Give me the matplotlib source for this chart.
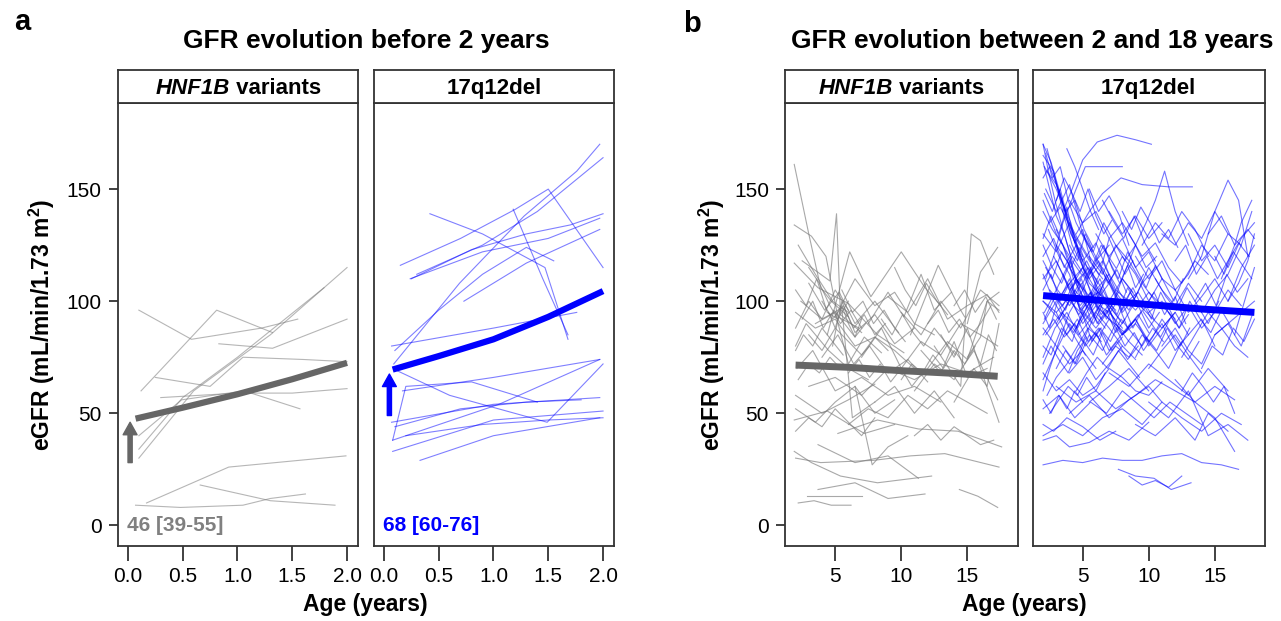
import matplotlib
matplotlib.use("Agg")
import matplotlib.pyplot as plt
from matplotlib.transforms import offset_copy

plt.rcParams['font.family'] = ['Liberation Sans', 'DejaVu Sans']
plt.rcParams['mathtext.default'] = 'regular'

# ---- data: individual trajectories (age in years, eGFR) ----
# a) before 2 years, HNF1B variants
hnf_early = [
    ([0.10, 0.58, 1.22, 1.55], [96, 83, 88, 92]),
    ([0.12, 0.81, 1.32], [60, 96, 86]),
    ([0.83, 1.32, 2.00], [81, 79, 92]),
    ([0.25, 0.75, 1.05, 1.60, 2.00], [66, 62, 75, 74, 73]),
    ([0.10, 0.50, 1.00, 1.79], [34, 57, 75, 106]),
    ([0.10, 0.60, 1.30, 2.00], [30, 60, 85, 115]),
    ([0.10, 0.49, 1.06, 1.57], [40, 56, 60, 52]),
    ([0.30, 1.00, 1.50, 2.00], [57, 59, 59, 61]),
    ([0.17, 0.92, 1.99], [10, 26, 31]),
    ([0.07, 0.48, 1.05, 1.30, 1.62], [9, 8, 9, 12, 14]),
    ([0.66, 1.30, 1.89], [18, 11, 9]),
]
# a) before 2 years, 17q12del
del_early = [
    ([0.09, 0.69, 1.28, 1.76, 1.97], [72, 108, 138, 158, 170]),
    ([0.30, 0.90, 1.40, 2.00], [112, 125, 140, 164]),
    ([0.15, 0.70, 1.20, 1.50, 2.00], [116, 128, 141, 150, 115]),
    ([0.25, 0.80, 1.30, 1.70, 2.00], [110, 123, 130, 134, 139]),
    ([0.42, 0.90, 1.47, 1.68], [139, 130, 115, 83]),
    ([1.18, 1.45, 1.68], [141, 110, 85]),
    ([0.73, 1.30, 1.97], [100, 117, 132]),
    ([0.24, 0.90, 1.50, 1.97], [110, 122, 128, 137]),
    ([0.07, 1.00, 1.76], [80, 88, 95]),
    ([0.10, 0.50, 0.90, 1.30, 1.55], [78, 96, 112, 124, 118]),
    ([0.17, 1.00, 1.97], [60, 66, 74]),
    ([0.12, 0.60, 1.49, 2.00], [69, 58, 46, 72]),
    ([0.07, 1.00, 1.97], [46, 54, 57]),
    ([0.08, 1.05, 1.97], [38, 54, 74]),
    ([0.08, 1.00, 2.00], [33, 47, 51]),
    ([0.33, 1.00, 1.97], [29, 40, 48]),
    ([0.10, 0.70, 1.30, 1.80], [44, 52, 55, 56]),
    ([0.20, 0.90, 1.50, 2.00], [40, 45, 47, 48]),
    ([0.08, 0.20, 0.80, 1.40], [38, 62, 64, 55]),
]
# b) 2-18 years, HNF1B variants
hnf_late = [
    ([1.9, 3.0, 3.9, 4.7, 6.0], [161, 130, 106, 100, 93]),
    ([1.9, 3.2, 4.3, 5.2, 6.8], [134, 129, 120, 93, 88]),
    ([2.5, 4.6, 5.1, 5.4, 7.0], [118, 109, 139, 94, 86]),
    ([1.9, 3.7, 6.0, 8.2, 10.2], [117, 106, 99, 85, 77]),
    ([4.4, 6.1, 7.7, 10.0, 11.8, 13.0], [85, 122, 102, 122, 106, 98]),
    ([10.7, 12.8, 14.4, 14.8], [85, 116, 97, 93]),
    ([12.5, 14.5, 15.3, 16.0, 17.0], [80, 62, 130, 127, 112]),
    ([15.0, 16.0, 17.3], [90, 113, 124]),
    ([2.0, 3.9, 7.9, 10.7, 13.3, 17.4], [30, 28, 29, 31, 32, 26]),
    ([2.2, 3.4, 4.7, 6.2], [10, 11, 9, 9]),
    ([2.9, 4.2, 7.0], [13, 13, 13]),
    ([14.4, 15.8, 17.3], [16, 13, 8]),
    ([3.7, 6.5, 9.0, 11.8], [16, 19, 12, 14]),
    ([1.9, 3.2, 5.4, 8.2, 12.3], [33, 28, 22, 19, 22]),
    ([3.7, 6.5, 9.0, 11.3], [36, 28, 31, 21]),
    ([5.2, 8.2, 11.3, 14.3, 17.6], [41, 47, 43, 42, 35]),
    ([1.9, 4.4, 7.2, 9.5], [47, 51, 41, 45]),
    ([6.5, 7.8, 9.0, 10.5], [62, 27, 35, 40]),
    ([2.0, 3.5, 5.0, 6.5, 8.0, 9.5, 11.0], [95, 88, 92, 80, 84, 78, 70]),
    ([2.0, 2.8, 4.5, 6.0, 7.5], [80, 90, 78, 70, 65]),
    ([2.1, 3.3, 5.0, 7.0, 9.0, 11.0, 13.0], [70, 78, 60, 66, 58, 62, 55]),
    ([2.4, 4.0, 5.5, 6.3, 8.0], [100, 92, 97, 48, 55]),
    ([3.0, 5.0, 7.0, 9.0, 11.0, 13.0, 15.0, 17.0], [62, 66, 58, 70, 65, 72, 68, 75]),
    ([2.0, 4.0, 6.0, 8.0], [58, 50, 56, 63]),
    ([5.0, 6.5, 8.0, 9.5, 11.0, 12.5], [93, 110, 98, 104, 90, 85]),
    ([7.0, 8.5, 10.0, 11.5, 13.0, 14.5, 16.0, 17.3], [75, 88, 70, 82, 76, 90, 85, 80]),
    ([9.0, 10.5, 12.0, 13.5, 15.0, 16.5, 17.4], [102, 95, 110, 92, 98, 103, 95]),
    ([11.0, 12.5, 14.0, 15.5, 17.3], [60, 72, 65, 78, 56]),
    ([13.0, 14.0, 15.0, 16.0, 17.4], [85, 75, 88, 70, 46]),
    ([8.0, 9.5, 11.0, 12.5, 14.0], [55, 62, 50, 60, 48]),
    ([3.0, 4.2, 5.3, 6.5, 8.0, 9.8], [108, 96, 104, 90, 100, 86]),
    ([2.2, 3.5, 4.8, 6.0], [125, 112, 100, 95]),
    ([2.0, 3.0, 4.0, 5.0, 6.0], [88, 100, 92, 105, 96]),
    ([4.0, 5.2, 6.4, 7.6, 9.0, 10.5, 12.0], [75, 85, 72, 80, 68, 74, 64]),
    ([10.0, 11.5, 13.0, 14.5, 16.0, 17.4], [95, 85, 100, 88, 105, 98]),
    ([12.0, 13.5, 15.0, 16.5, 17.4], [70, 82, 74, 100, 104]),
    ([14.0, 15.5, 16.5, 17.4], [55, 70, 62, 90]),
    ([6.0, 7.5, 9.0, 10.5, 12.0, 13.5, 15.0, 16.5], [45, 52, 48, 58, 52, 60, 55, 50]),
    ([2.0, 3.5, 5.0, 6.5, 8.0, 9.5], [52, 46, 55, 62, 50, 56]),
    ([3.5, 5.0, 6.0, 7.2, 8.5], [90, 95, 72, 84, 77]),
    ([7.5, 9.0, 10.2, 11.5, 12.5, 13.8], [90, 104, 93, 112, 96, 104]),
    ([15.0, 16.0, 16.5, 17.4], [75, 84, 100, 96]),
    ([4.8, 5.5, 6.5, 8.0, 9.5, 11.0], [80, 100, 86, 94, 81, 88]),
    ([11.5, 13.0, 14.0, 15.0, 16.5], [78, 68, 82, 66, 70]),
    ([2.0, 2.8, 3.6, 4.4, 5.2, 6.0], [105, 98, 110, 95, 92, 100]),
    ([2.5, 3.3, 4.1, 4.9, 5.7, 6.5, 7.3], [92, 100, 88, 96, 90, 84, 90]),
    ([3.0, 3.8, 4.6, 5.4, 6.2, 7.0], [115, 108, 98, 90, 96, 88]),
    ([4.0, 4.8, 5.6, 6.4, 7.2, 8.0, 8.8], [100, 92, 98, 88, 94, 85, 90]),
    ([2.0, 2.6, 3.3, 4.0, 4.8, 5.6], [78, 85, 80, 88, 82, 76]),
    ([5.5, 6.3, 7.1, 7.9, 8.7, 9.5, 10.3], [105, 95, 100, 90, 96, 88, 82]),
    ([8.5, 9.3, 10.1, 10.9, 11.7, 12.5, 13.3, 14.1], [92, 85, 94, 86, 80, 88, 82, 76]),
    ([10.0, 10.8, 11.6, 12.4, 13.2, 14.0, 14.8, 15.6], [65, 72, 68, 76, 70, 78, 72, 80]),
    ([12.0, 12.8, 13.6, 14.4, 15.2, 16.0, 16.8], [90, 96, 86, 92, 84, 90, 98]),
    ([2.2, 3.0, 3.8, 4.6, 5.4], [65, 72, 68, 75, 70]),
    ([6.0, 6.8, 7.6, 8.4, 9.2, 10.0, 10.8, 11.6], [68, 74, 66, 72, 64, 70, 62, 68]),
    ([3.0, 4.0, 5.0, 6.0, 7.0, 8.0, 9.0], [85, 78, 88, 82, 76, 84, 78]),
    ([9.5, 10.3, 11.1, 11.9, 12.7, 13.5], [115, 105, 98, 108, 100, 94]),
    ([14.0, 14.8, 15.6, 16.4, 17.2], [98, 105, 95, 102, 92]),
    ([2.0, 3.0, 4.0, 5.0, 6.0, 7.0, 8.0], [42, 48, 44, 52, 46, 40, 48]),
    ([11.0, 12.0, 13.0, 14.0, 15.0, 16.0, 17.0], [40, 45, 38, 44, 40, 36, 38]),
    ([4.5, 5.0, 5.5, 6.0, 6.5, 7.0], [95, 88, 98, 90, 84, 92]),
    ([16.0, 16.6, 17.2], [72, 85, 78]),
]
# b) 2-18 years, 17q12del
del_late = [
    ([2.0, 2.6, 3.2, 4.0, 5.0, 6.0], [170, 162, 150, 132, 118, 110]),
    ([2.0, 2.8, 3.5, 4.2, 5.3], [165, 158, 140, 125, 112]),
    ([2.1, 3.0, 3.8, 4.6, 5.5, 6.5, 7.5], [160, 150, 138, 122, 108, 102, 96]),
    ([2.0, 2.5, 3.3, 4.1, 5.0], [155, 160, 148, 130, 120]),
    ([2.2, 3.0, 4.0, 5.0, 6.0, 7.0], [150, 140, 152, 130, 118, 125]),
    ([2.0, 3.0, 4.0, 4.8, 5.6], [145, 130, 120, 105, 92]),
    ([2.3, 3.2, 4.1, 5.0, 5.8, 7.0, 8.0], [168, 148, 135, 115, 100, 95, 88]),
    ([2.0, 2.7, 3.5, 4.3, 5.2, 6.2], [140, 132, 125, 110, 100, 104]),
    ([2.5, 3.3, 4.5, 5.5, 6.5], [135, 142, 128, 118, 110]),
    ([3.5, 4.2, 5.0, 6.1, 7.6, 9.0, 10.2], [140, 150, 163, 171, 174, 172, 170]),
    ([2.8, 3.5, 4.5, 5.2, 6.6, 8.0], [120, 135, 150, 160, 160, 160]),
    ([4.5, 5.5, 6.5, 7.9, 9.5, 11.5, 13.3], [130, 140, 148, 155, 152, 151, 151]),
    ([8.0, 9.0, 9.8, 10.5, 11.2, 12.0, 13.0], [110, 125, 135, 145, 158, 140, 125]),
    ([13.0, 14.0, 15.0, 16.0, 16.8, 17.5], [110, 120, 140, 154, 145, 120]),
    ([15.5, 16.5, 17.0, 17.8], [110, 125, 135, 145]),
    ([5.5, 6.2, 7.0, 7.8, 8.5], [150, 140, 147, 138, 125]),
    ([2.0, 3.0, 4.0, 5.0, 6.0, 7.0, 8.0, 9.0], [110, 118, 105, 112, 100, 108, 95, 102]),
    ([2.0, 3.2, 4.4, 5.6, 6.8, 8.0, 9.2, 10.4], [100, 92, 105, 96, 110, 98, 104, 92]),
    ([2.1, 3.0, 4.2, 5.3, 6.4, 7.5], [95, 105, 120, 110, 125, 115]),
    ([2.0, 2.8, 3.6, 4.5, 5.5, 6.5, 7.5, 8.5], [120, 128, 115, 125, 110, 118, 105, 100]),
    ([2.2, 3.4, 4.6, 5.8, 7.0, 8.2, 9.4], [85, 95, 88, 100, 92, 86, 95]),
    ([2.0, 3.0, 4.0, 5.0, 6.0, 7.0], [130, 122, 135, 118, 126, 112]),
    ([2.5, 3.5, 4.5, 5.5, 6.5, 7.5, 8.5, 9.5, 10.5], [105, 98, 110, 102, 115, 104, 96, 108, 100]),
    ([3.0, 4.0, 5.0, 6.0, 7.0, 8.0, 9.0, 10.0, 11.0, 12.0], [90, 100, 94, 105, 98, 90, 100, 94, 88, 95]),
    ([2.0, 2.9, 3.8, 4.7, 5.6, 6.5], [75, 88, 95, 85, 92, 100]),
    ([2.0, 3.0, 4.0, 5.0, 6.0, 7.0, 8.0], [65, 78, 90, 82, 95, 88, 80]),
    ([2.0, 2.5, 3.2, 4.0, 5.0], [60, 70, 82, 95, 105]),
    ([2.3, 3.0, 3.8, 4.6, 5.4, 6.2, 7.0], [58, 66, 72, 80, 88, 84, 92]),
    ([4.0, 5.0, 6.0, 7.0, 8.0, 9.0, 10.0, 11.0], [115, 105, 118, 108, 120, 112, 100, 110]),
    ([5.0, 6.0, 7.0, 8.0, 9.0, 10.0, 11.0, 12.0, 13.0], [95, 88, 96, 85, 92, 80, 88, 95, 85]),
    ([6.0, 7.0, 8.0, 9.0, 10.0, 11.0, 12.0], [130, 120, 128, 115, 122, 110, 105]),
    ([3.5, 4.5, 5.5, 6.5, 7.5, 8.5, 9.5], [80, 72, 85, 78, 90, 82, 76]),
    ([2.0, 3.0, 4.0, 5.0, 6.0], [88, 80, 72, 78, 70]),
    ([7.0, 8.0, 9.0, 10.0, 11.0, 12.0, 13.0, 14.0], [100, 110, 102, 115, 105, 98, 108, 100]),
    ([8.0, 9.0, 10.0, 11.0, 12.0, 13.0, 14.0, 15.0], [85, 92, 82, 90, 78, 85, 92, 80]),
    ([9.0, 10.0, 11.0, 12.0, 13.0, 14.0, 15.0, 16.0], [120, 110, 118, 105, 112, 125, 118, 130]),
    ([10.0, 11.0, 12.0, 13.0, 14.0, 15.0, 16.0, 17.0], [95, 100, 90, 98, 88, 95, 105, 98]),
    ([11.0, 12.0, 13.0, 14.0, 15.0, 16.0, 17.0, 18.0], [80, 88, 78, 72, 85, 90, 95, 100]),
    ([12.0, 13.0, 14.0, 15.0, 16.0, 17.0, 18.0], [105, 95, 102, 110, 100, 115, 125]),
    ([13.0, 14.0, 15.0, 16.0, 17.0, 18.0], [130, 118, 125, 115, 128, 135]),
    ([14.0, 15.0, 16.0, 17.0, 17.8], [95, 105, 112, 125, 140]),
    ([6.5, 7.5, 8.5, 9.5, 10.5, 11.5, 12.5], [72, 80, 75, 85, 78, 70, 82]),
    ([4.0, 5.0, 6.0, 7.0, 8.0, 9.0], [68, 75, 65, 72, 80, 74]),
    ([2.0, 2.6, 3.3, 4.0, 4.8, 5.6, 6.4, 7.2], [105, 112, 100, 108, 98, 104, 94, 100]),
    ([2.2, 3.1, 4.0, 4.9, 5.8, 6.7], [115, 105, 98, 108, 95, 88]),
    ([3.0, 3.8, 4.6, 5.4, 6.2, 7.0, 7.8], [125, 118, 108, 115, 105, 98, 92]),
    ([5.5, 6.5, 7.5, 8.5, 9.5, 10.5], [120, 112, 125, 118, 108, 115]),
    ([2.0, 3.0, 4.0, 5.0, 6.0, 7.0, 8.0, 9.0, 10.0], [100, 95, 102, 90, 98, 92, 85, 90, 82]),
    ([8.5, 9.5, 10.5, 11.5, 12.5, 13.5, 14.5], [130, 120, 126, 115, 108, 118, 112]),
    ([10.0, 11.0, 12.0, 13.0, 14.0], [70, 78, 85, 76, 68]),
    ([12.5, 13.5, 14.5, 15.5, 16.5, 17.5], [75, 85, 95, 88, 80, 75]),
    ([15.0, 16.0, 17.0, 17.9], [85, 90, 80, 95]),
    ([16.0, 16.8, 17.5, 18.0], [100, 108, 118, 130]),
    ([9.5, 10.5, 11.5, 12.5, 13.5, 14.5], [125, 135, 128, 140, 132, 120]),
    ([11.0, 12.0, 13.0, 14.0, 15.0, 16.0, 17.0], [130, 125, 135, 128, 140, 130, 125]),
    ([7.0, 8.0, 9.0, 10.0, 11.0], [140, 130, 138, 128, 135]),
    ([14.5, 15.5, 16.5, 17.5, 18.0], [130, 138, 125, 132, 128]),
    ([4.0, 5.0, 6.0, 7.0, 8.0, 9.0], [145, 135, 140, 128, 135, 125]),
    ([2.0, 3.0, 4.0, 5.0, 6.0, 7.0, 8.0, 9.0, 10.0, 11.0], [68, 60, 65, 58, 62, 70, 66, 60, 58, 64]),
    ([2.0, 3.2, 4.4, 5.6, 6.8, 8.0, 9.2, 10.4, 11.6, 12.8, 14.0], [52, 58, 48, 55, 50, 60, 54, 48, 55, 50, 45]),
    ([2.0, 2.8, 3.8, 5.0, 6.3, 7.5], [45, 42, 48, 44, 38, 42]),
    ([2.0, 3.5, 5.0, 6.5, 8.0, 9.5, 11.0, 12.5, 14.0, 15.5, 17.0], [40, 45, 40, 48, 52, 45, 55, 48, 42, 50, 45]),
    ([3.0, 4.5, 6.0, 7.5, 9.0, 10.5, 12.0, 13.5, 15.0, 16.5], [62, 55, 60, 52, 58, 65, 60, 55, 62, 56]),
    ([2.0, 3.0, 4.0, 5.5, 7.0, 8.5, 10.0], [38, 40, 35, 37, 42, 38, 46]),
    ([7.0, 8.5, 10.0, 11.5, 13.0, 14.5, 16.0], [68, 62, 72, 65, 58, 70, 60]),
    ([10.0, 11.5, 13.0, 14.5, 16.0, 17.5], [55, 48, 60, 40, 45, 38]),
    ([12.0, 13.5, 15.0, 16.5], [65, 55, 48, 33]),
    ([2.0, 3.5, 5.0, 6.5, 8.0, 9.5, 11.0, 12.5, 14.0, 15.5, 16.8], [27, 29, 28, 30, 29, 29, 31, 32, 28, 27, 25]),
    ([7.7, 9.0, 10.4, 11.7, 13.2], [25, 22, 21, 16, 19]),
    ([8.5, 9.5, 10.5, 11.5, 12.5], [22, 18, 20, 17, 22]),
    ([9.0, 10.5, 12.0, 13.5, 14.5, 16.0], [45, 40, 48, 38, 50, 42]),
    ([4.0, 5.5, 7.0, 8.5, 10.0, 11.0], [50, 58, 48, 56, 62, 55]),
    ([5.5, 7.0, 8.5, 10.0], [55, 62, 70, 60]),
    ([2.0, 2.7, 3.4, 4.1, 4.8, 5.5, 6.2], [125, 115, 108, 118, 102, 96, 90]),
    ([2.1, 2.9, 3.7, 4.5, 5.3, 6.1], [92, 102, 96, 110, 118, 108]),
    ([2.0, 2.6, 3.4, 4.2, 5.0, 5.8, 6.6, 7.4], [80, 76, 88, 82, 96, 90, 100, 92]),
    ([3.2, 4.0, 4.8, 5.6, 6.4, 7.2, 8.0, 8.8], [100, 110, 96, 104, 92, 98, 110, 104]),
    ([4.5, 5.2, 6.0, 6.8, 7.6, 8.4, 9.2, 10.0], [88, 96, 104, 92, 100, 88, 94, 86]),
    ([2.4, 3.2, 4.0, 4.8, 5.6, 6.4], [132, 120, 112, 96, 88, 82]),
    ([6.0, 6.8, 7.6, 8.4, 9.2, 10.0, 10.8], [110, 102, 94, 106, 98, 88, 95]),
    ([2.0, 2.8, 3.6, 4.4, 5.2], [112, 100, 92, 84, 76]),
    ([2.0, 2.5, 3.0, 3.6, 4.2, 4.9], [162, 150, 138, 130, 118, 112]),
    ([2.1, 2.7, 3.3, 3.9, 4.6, 5.4, 6.2], [148, 140, 150, 136, 128, 120, 112]),
    ([2.0, 2.6, 3.2, 3.8, 4.4, 5.0, 5.6], [128, 138, 130, 142, 126, 132, 118]),
    ([2.3, 3.0, 3.7, 4.4, 5.1, 5.8], [158, 152, 140, 145, 132, 124]),
    ([3.0, 3.6, 4.2, 4.8, 5.4, 6.0, 6.6, 7.2], [145, 155, 148, 140, 150, 138, 130, 136]),
    ([2.0, 2.5, 3.1, 3.7, 4.3, 5.0, 5.7, 6.4], [95, 88, 100, 92, 86, 94, 82, 88]),
    ([2.2, 2.8, 3.5, 4.2, 4.9, 5.6, 6.3, 7.0, 7.7], [110, 120, 112, 102, 110, 98, 106, 96, 104]),
    ([4.0, 4.6, 5.2, 5.8, 6.4, 7.0, 7.6, 8.2, 8.8], [125, 118, 130, 122, 115, 128, 120, 112, 118]),
    ([5.0, 5.6, 6.2, 6.8, 7.4, 8.0, 8.6, 9.2], [108, 115, 102, 112, 104, 96, 104, 98]),
    ([6.0, 6.7, 7.4, 8.1, 8.8, 9.5, 10.2, 10.9, 11.6], [95, 102, 90, 98, 88, 96, 90, 84, 92]),
    ([3.0, 3.7, 4.4, 5.1, 5.8, 6.5, 7.2, 8.0], [70, 78, 72, 82, 76, 86, 78, 84]),
    ([2.0, 2.6, 3.2, 3.9, 4.6, 5.3], [72, 80, 74, 68, 78, 84]),
    ([4.5, 5.3, 6.1, 6.9, 7.7, 8.5, 9.3], [60, 68, 75, 70, 78, 72, 66]),
    ([7.0, 7.7, 8.4, 9.1, 9.8, 10.5, 11.2, 11.9, 12.6], [118, 110, 122, 114, 106, 116, 108, 100, 110]),
    ([8.0, 8.8, 9.6, 10.4, 11.2, 12.0, 12.8], [98, 106, 96, 104, 94, 102, 90]),
    ([9.0, 9.8, 10.6, 11.4, 12.2, 13.0, 13.8], [75, 84, 78, 88, 80, 74, 82]),
    ([10.5, 11.3, 12.1, 12.9, 13.7, 14.5, 15.3], [110, 102, 96, 106, 98, 90, 100]),
    ([3.5, 4.2, 4.9, 5.6, 6.3, 7.0], [112, 104, 96, 102, 110, 100]),
    ([2.0, 2.8, 3.6, 4.4, 5.2, 6.0, 6.8, 7.6, 8.4, 9.2], [85, 92, 84, 90, 80, 86, 76, 82, 74, 80]),
    ([5.0, 5.8, 6.6, 7.4, 8.2, 9.0, 9.8, 10.6], [130, 122, 135, 126, 118, 125, 115, 120]),
    ([6.5, 7.3, 8.1, 8.9, 9.7, 10.5], [145, 136, 128, 138, 126, 118]),
    ([2.0, 2.4, 2.9, 3.5, 4.1], [170, 158, 145, 132, 120]),
    ([2.2, 2.7, 3.3, 3.9, 4.5, 5.1, 5.7], [166, 155, 160, 145, 135, 128, 122]),
    ([3.8, 4.4, 5.0, 5.6, 6.2], [168, 160, 150, 140, 132]),
    ([11.5, 12.3, 13.1, 13.9, 14.7, 15.5, 16.3], [95, 88, 100, 92, 86, 96, 88]),
    ([13.5, 14.3, 15.1, 15.9, 16.7, 17.5], [100, 108, 98, 112, 104, 110]),
    ([14.0, 14.8, 15.6, 16.4, 17.2, 18.0], [70, 80, 76, 88, 82, 92]),
    ([12.0, 12.8, 13.6, 14.4, 15.2, 16.0, 16.8, 17.6], [118, 125, 112, 120, 110, 118, 126, 120]),
    ([2.5, 3.2, 3.9, 4.6, 5.3, 6.0, 6.7], [50, 56, 62, 58, 66, 60, 68]),
    ([2.0, 2.6, 3.2, 3.8, 4.4, 5.0], [56, 50, 58, 52, 60, 55]),
    ([3.0, 3.8, 4.6, 5.4, 6.2, 7.0, 7.8, 8.6], [95, 85, 92, 82, 88, 78, 84, 90]),
    ([4.0, 4.7, 5.4, 6.1, 6.8, 7.5, 8.2], [102, 94, 100, 90, 96, 86, 92]),
    ([7.5, 8.2, 8.9, 9.6, 10.3, 11.0, 11.7, 12.4, 13.1], [88, 80, 86, 78, 84, 92, 86, 80, 88]),
    ([8.0, 8.7, 9.4, 10.1, 10.8, 11.5, 12.2], [140, 132, 142, 135, 126, 132, 124]),
    ([9.5, 10.2, 10.9, 11.6, 12.3, 13.0], [100, 92, 104, 96, 88, 94]),
    ([2.0, 2.7, 3.4, 4.1, 4.8, 5.5, 6.2, 6.9, 7.6, 8.3], [118, 110, 122, 115, 124, 112, 118, 108, 114, 104]),
    ([5.5, 6.3, 7.1, 7.9, 8.7, 9.5, 10.3, 11.1], [80, 88, 82, 92, 86, 80, 88, 82]),
    ([3.0, 3.5, 4.0, 4.5, 5.0, 5.5, 6.0], [132, 125, 118, 110, 105, 98, 92]),
    ([2.0, 3.0, 4.0, 5.0, 6.0, 7.0, 8.0, 9.0, 10.0, 11.0, 12.0], [90, 100, 108, 115, 105, 112, 102, 96, 104, 98, 92]),
    ([6.0, 6.6, 7.2, 7.8, 8.4, 9.0, 9.6], [118, 125, 115, 108, 116, 106, 112]),
    ([15.0, 15.7, 16.4, 17.1, 17.8], [120, 112, 122, 116, 110]),
    ([16.5, 17.0, 17.5, 18.0], [85, 95, 105, 115]),
    ([12.5, 13.3, 14.1, 14.9, 15.7, 16.5], [60, 68, 62, 55, 62, 50]),
]

# group mean trajectories
mean_hnf_early = ([0.07, 0.5, 1.0, 1.5, 2.0], [47.6, 52.5, 58.5, 65.2, 72.5])
mean_del_early = ([0.08, 0.5, 1.0, 1.5, 2.0], [69.5, 75.5, 83.0, 93.0, 104.5])
mean_hnf_late = ([2.0, 6.0, 10.0, 14.0, 17.3], [71.5, 70.5, 69.0, 67.8, 66.5])
mean_del_late = ([2.0, 6.0, 10.0, 14.0, 18.0], [102.5, 100.5, 98.5, 96.5, 95.0])

# baseline eGFR at birth, median [IQR]
base_labels = ["46 [39-55]", "68 [60-76]"]
base_arrow = [(0.02, 28, 46), (0.05, 49, 67.5)]

early_ticks = [0.0, 0.5, 1.0, 1.5, 2.0]
late_ticks = [5, 10, 15]
y_ticks = [0, 50, 100, 150]

W, H = 1281, 621
fig = plt.figure(figsize=(W / 100, H / 100), dpi=100)

GRAY_LINE = '#7a7a7a'
GRAY_MEAN = '#666666'
BLUE = '#0000ff'
FRAME = '#333333'
PLOT_TOP, PLOT_BOT, STRIP_TOP = 103, 546, 70


def px_axes(x0, y0, x1, y1):
    return fig.add_axes([x0 / W, 1 - y1 / H, (x1 - x0) / W, (y1 - y0) / H])


def strip(x0, x1, italic_part, rest):
    s = px_axes(x0, STRIP_TOP, x1, PLOT_TOP)
    s.set_xticks([])
    s.set_yticks([])
    for sp in s.spines.values():
        sp.set_color(FRAME)
        sp.set_linewidth(1.3)
    if italic_part:
        tr = offset_copy(s.transAxes, fig=fig, x=-8, y=0, units='dots')
        s.text(0.5, 0.45, italic_part, transform=tr, ha='right', va='center',
               fontsize=16, fontweight='bold', style='italic')
        s.text(0.5, 0.45, ' ' + rest, transform=tr, ha='left', va='center',
               fontsize=16, fontweight='bold')
    else:
        s.text(0.5, 0.45, rest, transform=s.transAxes, ha='center', va='center',
               fontsize=16, fontweight='bold')


def panel(x0, x1, xlim, xticks, xticklabels, lines, lcolor, lalpha, mean, mcolor, mlw, show_y):
    ax = px_axes(x0, PLOT_TOP, x1, PLOT_BOT)
    for ages, vals in lines:
        ax.plot(ages, vals, color=lcolor, lw=0.8, alpha=lalpha)
    ax.plot(mean[0], mean[1], color=mcolor, lw=mlw, solid_capstyle='butt')
    ax.set_xlim(*xlim)
    ax.set_ylim(-9.2, 188.4)
    ax.set_xticks(xticks)
    ax.set_xticklabels(xticklabels, fontsize=15)
    ax.tick_params(axis='x', length=11, width=1.3, color=FRAME, pad=4)
    if show_y:
        ax.set_yticks(y_ticks)
        ax.set_yticklabels([str(v) for v in y_ticks], fontsize=15)
        ax.tick_params(axis='y', length=6.5, width=1.3, color=FRAME, pad=5)
    else:
        ax.set_yticks([])
    for sp in ax.spines.values():
        sp.set_color(FRAME)
        sp.set_linewidth(1.3)
    return ax


early_lab = ['%.1f' % t for t in early_ticks]
late_lab = [str(t) for t in late_ticks]

ax1 = panel(117.5, 358, (-0.095, 2.1), early_ticks, early_lab, hnf_early,
            GRAY_LINE, 0.55, mean_hnf_early, GRAY_MEAN, 4.5, True)
ax2 = panel(373.5, 614, (-0.095, 2.1), early_ticks, early_lab, del_early,
            BLUE, 0.5, mean_del_early, BLUE, 4.5, False)
ax3 = panel(785, 1017.5, (1.2, 18.8), late_ticks, late_lab, hnf_late,
            GRAY_LINE, 0.65, mean_hnf_late, GRAY_MEAN, 5, True)
ax4 = panel(1032.5, 1265, (1.2, 18.8), late_ticks, late_lab, del_late,
            BLUE, 0.55, mean_del_late, BLUE, 5, False)

strip(117.5, 358, 'HNF1B', 'variants')
strip(373.5, 614, None, '17q12del')
strip(785, 1017.5, 'HNF1B', 'variants')
strip(1032.5, 1265, None, '17q12del')

# baseline arrows and labels
for ax, (x, y0, y1), lab, col in zip([ax1, ax2], base_arrow, base_labels, [GRAY_MEAN, BLUE]):
    ax.annotate('', xy=(x, y1), xytext=(x, y0),
                arrowprops=dict(facecolor=col, edgecolor=col, width=3, headwidth=10,
                                headlength=9, shrink=0))
    ax.text(-0.01, 0, lab, color='#808080' if col == GRAY_MEAN else BLUE,
            fontsize=15, fontweight='bold', ha='left', va='center')

# titles and labels
fig.text(22 / W, 1 - 22 / H, 'a', fontsize=21, fontweight='bold', ha='center', va='center')
fig.text(692 / W, 1 - 24 / H, 'b', fontsize=21, fontweight='bold', ha='center', va='center')
fig.text(366 / W, 1 - 41 / H, 'GFR evolution before 2 years', fontsize=19,
         fontweight='bold', ha='center', va='center')
fig.text(1032 / W, 1 - 41 / H, 'GFR evolution between 2 and 18 years', fontsize=19,
         fontweight='bold', ha='center', va='center')
ylab = 'eGFR (mL/min/1.73 m$^{2}$)'
fig.text(42 / W, 1 - 325 / H, ylab, fontsize=16.5, fontweight='bold', rotation=90,
         ha='center', va='center')
fig.text(712 / W, 1 - 325 / H, ylab, fontsize=16.5, fontweight='bold', rotation=90,
         ha='center', va='center')
fig.text(365 / W, 1 - 605 / H, 'Age (years)', fontsize=16.5, fontweight='bold',
         ha='center', va='center')
fig.text(1024 / W, 1 - 605 / H, 'Age (years)', fontsize=16.5, fontweight='bold',
         ha='center', va='center')

fig.savefig('out.png', dpi=100)
